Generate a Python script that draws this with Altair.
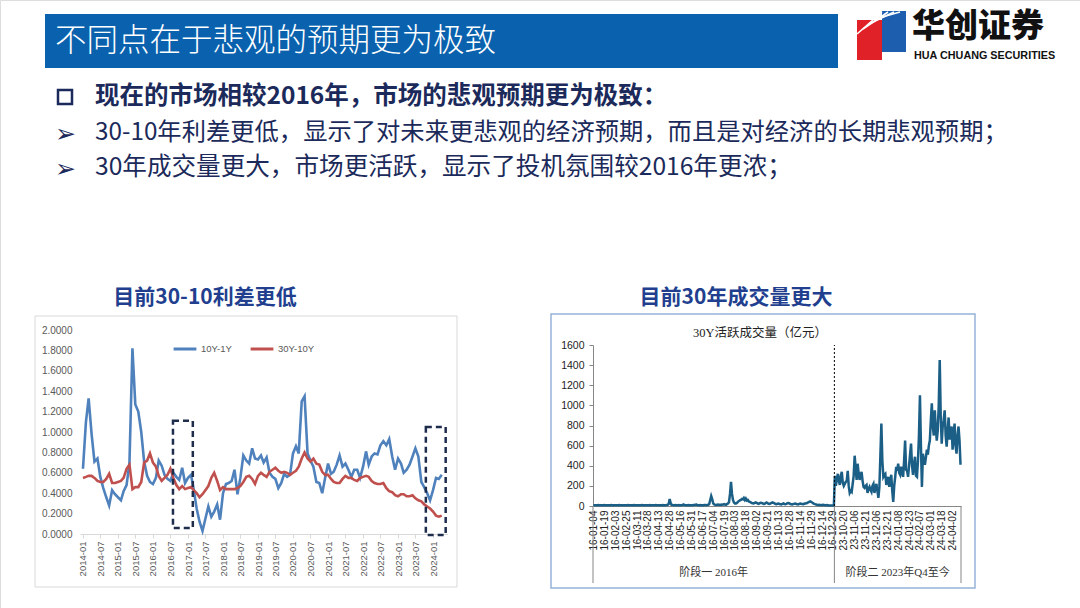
import altair as alt
import pandas as pd

# ---------------- data: left chart (monthly spreads, 2014-01 .. 2024-04) ----------------
spread_10y_1y = [
    0.64, 1.10, 1.33, 0.98, 0.71, 0.74, 0.56, 0.45, 0.36, 0.28, 0.43, 0.39,
    0.36, 0.33, 0.42, 0.48, 0.70, 1.82, 1.27, 1.20, 1.00, 0.71, 0.57, 0.51,
    0.49, 0.55, 0.72, 0.67, 0.58, 0.54, 0.52, 0.60, 0.56, 0.53, 0.65, 0.50,
    0.55, 0.58, 0.44, 0.25, 0.12, 0.03, 0.15, 0.27, 0.17, 0.22, 0.29, 0.14,
    0.40, 0.49, 0.50, 0.52, 0.63, 0.39, 0.55, 0.77, 0.72, 0.69, 0.84, 0.74,
    0.73, 0.77, 0.70, 0.75, 0.60, 0.56, 0.54, 0.45, 0.50, 0.59, 0.56, 0.58,
    0.79, 0.86, 0.79, 1.30, 1.35, 0.79, 0.72, 0.66, 0.51, 0.50, 0.40, 0.55,
    0.69, 0.59, 0.61, 0.68, 0.77, 0.66, 0.69, 0.63, 0.56, 0.63, 0.63, 0.55,
    0.66, 0.81, 0.68, 0.76, 0.79, 0.78, 0.87, 0.91, 0.87, 0.93, 0.76, 0.63,
    0.74, 0.69, 0.60, 0.63, 0.68, 0.76, 0.84, 0.76, 0.51, 0.46, 0.40, 0.33,
    0.43, 0.55, 0.54, 0.58,
]
spread_30y_10y = [
    0.55, 0.56, 0.57, 0.57, 0.55, 0.52, 0.51, 0.51, 0.54, 0.59, 0.50, 0.50,
    0.51, 0.52, 0.55, 0.64, 0.68, 0.44, 0.46, 0.46, 0.51, 0.70, 0.72, 0.79,
    0.70, 0.66, 0.57, 0.52, 0.55, 0.58, 0.64, 0.55, 0.48, 0.44, 0.47, 0.44,
    0.45, 0.46, 0.43, 0.40, 0.36, 0.39, 0.43, 0.47, 0.55, 0.60, 0.52, 0.43,
    0.46, 0.44, 0.44, 0.44, 0.44, 0.45, 0.47, 0.51, 0.56, 0.57, 0.54, 0.49,
    0.57, 0.60, 0.58, 0.56, 0.61, 0.63, 0.65, 0.62, 0.60, 0.61, 0.60, 0.58,
    0.60, 0.62, 0.66, 0.74, 0.80, 0.74, 0.71, 0.74, 0.69, 0.68, 0.61, 0.58,
    0.58, 0.54, 0.51, 0.50, 0.50, 0.54, 0.57, 0.55, 0.55, 0.53, 0.52, 0.55,
    0.56, 0.57, 0.56, 0.52, 0.50, 0.49, 0.49, 0.50, 0.45, 0.42, 0.41, 0.38,
    0.37, 0.39, 0.39, 0.37, 0.37, 0.38, 0.35, 0.33, 0.32, 0.29, 0.27, 0.25,
    0.22, 0.18, 0.17, 0.18,
]
series_names = ["10Y-1Y", "30Y-10Y"]
series_colors = ["#4f81bd", "#c0504d"]
spread_ticks = [f"{y}-{m:02d}" for y in range(2014, 2025) for m in (1, 7)][:21]
# dashed highlight boxes (data coordinates)
box_start = ["2016-07-28T00:00:00", "2023-10-18T00:00:00"]
box_end = ["2017-02-20T00:00:00", "2024-05-12T00:00:00"]
box_low = [0.06, -0.01]
box_high = [1.11, 1.05]

# ---------------- data: right chart (30Y active volume, 100m CNY, trading days) ----------------
vol_2016 = [
    8, 8, 7, 8, 8, 9, 8, 7, 8, 8, 8, 9, 8, 8, 7, 8, 8, 8, 9, 8,
    8, 8, 8, 7, 8, 8, 9, 8, 8, 8, 8, 8, 7, 8, 8, 9, 8, 8, 8, 8,
    8, 9, 8, 8, 8, 7, 8, 8, 8, 9, 8, 8, 8, 8, 7, 8, 8, 9, 8, 8,
    8, 8, 8, 9, 8, 8, 8, 7, 8, 8, 9, 8, 8, 8, 10, 12, 20, 70, 30, 10,
    9, 8, 8, 10, 8, 8, 9, 8, 8, 8, 10, 15, 10, 8, 8, 8, 9, 8, 8, 8,
    8, 9, 10, 12, 14, 10, 8, 8, 9, 8, 8, 8, 10, 9, 8, 10, 12, 20, 60, 100,
    70, 25, 15, 12, 10, 12, 14, 12, 10, 15, 12, 14, 18, 15, 12, 20, 25, 40, 120, 240,
    120, 60, 35, 25, 25, 30, 40, 50, 55, 60, 70, 65, 80, 60, 75, 55, 60, 45, 40, 35,
    30, 28, 25, 30, 35, 30, 25, 22, 28, 32, 30, 25, 20, 22, 30, 35, 28, 22, 20, 25,
    30, 35, 30, 25, 20, 18, 22, 25, 20, 18, 15, 20, 25, 20, 18, 22, 28, 30, 25, 20,
    18, 15, 20, 22, 25, 20, 18, 15, 20, 25, 22, 20, 18, 22, 25, 28, 30, 35, 40, 45,
    40, 35, 28, 22, 18, 15, 12, 10, 12, 10, 8, 10, 12, 10, 8, 8, 10, 8, 6, 6, 5, 6, 5, 5,
]
vol_2023q4 = [
    300, 200, 260, 320, 250, 210, 300, 340, 230, 200,
    220, 240, 250, 350, 200, 130, 150, 140, 220, 300,
    500, 380, 260, 420, 330, 260, 300, 340, 250, 190,
    180, 200, 210, 130, 170, 190, 160, 140, 200, 220,
    130, 180, 220, 150, 80, 190, 500, 820, 450, 290,
    310, 320, 210, 250, 290, 190, 250, 310, 150, 40,
    200, 290, 390, 350, 420, 330, 310, 390, 330, 290,
    450, 650, 360, 350, 290, 400, 510, 620, 400, 310,
    420, 490, 300, 290, 450, 700, 1100, 600, 190, 520,
    450, 410, 480, 560, 510, 600, 650, 850, 1020, 790,
    700, 950, 780, 650, 750, 1000, 1450, 900, 620, 790,
    850, 950, 700, 590, 750, 880, 660, 720, 790, 560,
    700, 820, 600, 520, 700, 790, 650, 410,
]
vol_tick_labels = [
    "16-01-04", "16-01-19", "16-02-03", "16-02-25", "16-03-11", "16-03-28",
    "16-04-13", "16-04-28", "16-05-16", "16-05-31", "16-06-17", "16-07-04",
    "16-07-19", "16-08-03", "16-08-18", "16-09-02", "16-09-21", "16-10-13",
    "16-10-28", "16-11-14", "16-11-29", "16-12-14", "16-12-29", "23-10-20",
    "23-11-06", "23-11-21", "23-12-06", "23-12-21", "24-01-08", "24-01-23",
    "24-02-07", "24-03-01", "24-03-18", "24-04-02",
]
vol_tick_step = 11
stage_names = ["阶段一  2016年", "阶段二  2023年Q4至今"]
vol_y_ticks = [0, 200, 400, 600, 800, 1000, 1200, 1400, 1600]

# ---------------- tables ----------------
n_sp = len(spread_10y_1y)
months = list(pd.date_range("2014-01-01", periods=n_sp, freq="MS").strftime("%Y-%m-%dT00:00:00"))
df_spread = pd.DataFrame({
    "month": months * 2,
    "value": spread_10y_1y + spread_30y_10y,
    "series": [series_names[0]] * n_sp + [series_names[1]] * n_sp,
})
df_box = pd.DataFrame({"x0": box_start, "x1": box_end, "y0": box_low, "y1": box_high})

vol = vol_2016 + vol_2023q4
n_vol = len(vol)
df_vol = pd.DataFrame({"idx": list(range(n_vol)), "v": vol})
bounds = [-0.5, len(vol_2016) - 0.5, n_vol - 0.5]
df_div = pd.DataFrame({"x": [bounds[1]], "y0": [0], "y1": [vol_y_ticks[-1]]})
df_bounds = pd.DataFrame({"x": bounds})
df_stage = pd.DataFrame({
    "x": [(bounds[0] + bounds[1]) / 2, (bounds[1] + bounds[2]) / 2],
    "name": stage_names,
})

one = pd.DataFrame({"k": [0]})
CJK = "Noto Sans CJK SC"
NAVY = "#1b2a5a"
W, H = 1080, 608


def txt(s, x, y, size, color, weight="normal", align="left", font=CJK):
    return alt.Chart(one).mark_text(
        text=s, fontSize=size, color=color, fontWeight=weight, align=align,
        baseline="middle", font=font,
    ).encode(x=alt.value(x), y=alt.value(y))


def box(x0, x1, y0, y1, **kw):
    return alt.Chart(one).mark_rect(**kw).encode(
        x=alt.value(x0), x2=alt.value(x1), y=alt.value(y0), y2=alt.value(y1))


layers = []
# header band + title
layers.append(box(45, 838, 14, 68, color="#0a62ae"))
layers.append(txt("不同点在于悲观的预期更为极致", 55, 42, 31.5, "white", weight=300))
# logo
layers.append(box(857, 882, 20, 60, color="#e02128"))
layers.append(box(882, 906, 11, 52, color="#1d5fae"))
for k in range(4):
    layers.append(alt.Chart(one).mark_rule(color="white", strokeWidth=1.6).encode(
        x=alt.value(857 + k * 6), y=alt.value(34 - k * 5), x2=alt.value(882 + k * 6), y2=alt.value(12)))
layers.append(txt("华创证券", 912, 27, 33, "#111111", weight=900))
layers.append(txt("HUA CHUANG SECURITIES", 914, 55.5, 10.8, "#111111", weight="bold", font="Liberation Sans"))
# bullets
layers.append(box(58, 72, 90, 104, fillOpacity=0, stroke=NAVY, strokeWidth=2.5))
layers.append(txt("现在的市场相较2016年，市场的悲观预期更为极致：", 95, 97, 24.5, NAVY, weight="bold"))
layers.append(txt("➢", 55, 134, 25, NAVY, font="DejaVu Sans"))
layers.append(txt("30-10年利差更低，显示了对未来更悲观的经济预期，而且是对经济的长期悲观预期；", 95, 133, 24.3, NAVY))
layers.append(txt("➢", 55, 169, 25, NAVY, font="DejaVu Sans"))
layers.append(txt("30年成交量更大，市场更活跃，显示了投机氛围较2016年更浓；", 95, 168, 24.6, NAVY))
# chart titles
layers.append(txt("目前30-10利差更低", 205, 298, 21, "#213f8e", weight="bold", align="center"))
layers.append(txt("目前30年成交量更大", 736, 298, 21, "#213f8e", weight="bold", align="center"))
# chart frames
layers.append(box(35, 457, 316, 587, fillOpacity=0, stroke="#d9d9d9", strokeWidth=1))
layers.append(box(551, 975, 314, 588, fillOpacity=0, stroke="#95b3d7", strokeWidth=1.5))

# ---------------- left chart ----------------
x_sp = alt.Scale(domain=[alt.DateTime(year=2013, month=12, date=1),
                         alt.DateTime(year=2024, month=6, date=1)],
                 range=[80, 447.6])
y_sp = alt.Scale(domain=[0, 2], range=[534, 330], nice=False, zero=False)
tick_dates = [alt.DateTime(year=int(t[:4]), month=int(t[5:]), date=1) for t in spread_ticks]

left_lines = alt.Chart(df_spread).mark_line(strokeWidth=2.6).encode(
    x=alt.X("month:T", scale=x_sp, axis=alt.Axis(
        orient="bottom", offset=534 - H, values=tick_dates, format="%Y-%m",
        labelAngle=-90, labelFontSize=9.5, labelColor="#595959", labelFont="Liberation Sans",
        domainColor="#d9d9d9", tickColor="#d9d9d9", tickSize=4, grid=False, title=None,
        labelPadding=3, labelFlush=False, labelOverlap=False)),
    y=alt.Y("value:Q", scale=y_sp, axis=alt.Axis(
        orient="left", offset=-76, values=[i / 5 for i in range(11)], format=".4f",
        labelFontSize=10, labelColor="#595959", labelFont="Liberation Sans",
        domain=False, ticks=False, grid=False, title=None, labelPadding=4,
        labelFlush=False, labelOverlap=False)),
    color=alt.Color("series:N", scale=alt.Scale(domain=series_names, range=series_colors),
                    legend=alt.Legend(orient="none", legendX=172, legendY=336, direction="horizontal",
                                      title=None, symbolType="stroke", symbolStrokeWidth=3,
                                      symbolSize=520, labelFontSize=9.5, labelColor="#595959",
                                      labelFont="Liberation Sans", columnPadding=12, labelOffset=3)),
)
layers.append(left_lines)

left_boxes = alt.Chart(df_box).mark_rect(fillOpacity=0, stroke="#1f2d4d", strokeWidth=2.5,
                                         strokeDash=[6, 4]).encode(
    x=alt.X("x0:T", scale=x_sp, axis=None), x2="x1:T",
    y=alt.Y("y0:Q", scale=y_sp, axis=None), y2="y1:Q",
)
layers.append(left_boxes)

# ---------------- right chart ----------------
x_vol = alt.Scale(domain=[bounds[0], bounds[2]], range=[593, 961], nice=False, zero=False)
y_vol = alt.Scale(domain=[0, vol_y_ticks[-1]], range=[506, 345], nice=False, zero=False)
label_array = "[" + ",".join(f"'{s}'" for s in vol_tick_labels) + "]"

right_line = alt.Chart(df_vol).mark_line(color="#1c5f86", strokeWidth=2.5).encode(
    x=alt.X("idx:Q", scale=x_vol, axis=alt.Axis(
        orient="bottom", offset=506 - H,
        values=[i * vol_tick_step for i in range(len(vol_tick_labels))],
        labelExpr=f"{label_array}[round(datum.value / {vol_tick_step})]",
        labelAngle=-90, labelFontSize=10, labelColor="#222222", labelFont="Liberation Sans",
        domainColor="#868686", ticks=False, grid=False, title=None, labelPadding=4,
        labelFlush=False, labelOverlap=False)),
    y=alt.Y("v:Q", scale=y_vol, axis=alt.Axis(
        orient="left", offset=-593, values=vol_y_ticks, format="d",
        labelFontSize=10.5, labelColor="#222222", labelFont="Liberation Sans",
        domainColor="#868686", tickColor="#868686", tickSize=4, grid=False, title=None,
        labelPadding=5, labelFlush=False, labelOverlap=False)),
)
layers.append(right_line)

divider = alt.Chart(df_div).mark_rule(color="#000000", strokeWidth=1, strokeDash=[2, 2]).encode(
    x=alt.X("x:Q", scale=x_vol, axis=None),
    y=alt.Y("y0:Q", scale=y_vol, axis=None), y2="y1:Q",
)
layers.append(divider)

group_lines = alt.Chart(df_bounds).mark_rule(color="#868686", strokeWidth=1).encode(
    x=alt.X("x:Q", scale=x_vol, axis=None), y=alt.value(506), y2=alt.value(583),
)
layers.append(group_lines)

stage_text = alt.Chart(df_stage).mark_text(fontSize=11, color="#333333", baseline="middle",
                                           font="Liberation Serif, Noto Sans CJK SC").encode(
    x=alt.X("x:Q", scale=x_vol, axis=None), y=alt.value(573), text="name:N",
)
layers.append(stage_text)
layers.append(txt("30Y活跃成交量（亿元）", 760, 333, 12.5, "#222222", align="center",
                  font="Liberation Serif, Noto Sans CJK SC"))

chart = alt.layer(*layers).resolve_scale(
    x="independent", y="independent", color="independent"
).properties(
    width=W, height=H, padding=0, autosize=alt.AutoSizeParams(type="none")
).configure_view(stroke=None).configure(background="white")

chart.save("out.html", embed_options={"renderer": "svg", "actions": False})
